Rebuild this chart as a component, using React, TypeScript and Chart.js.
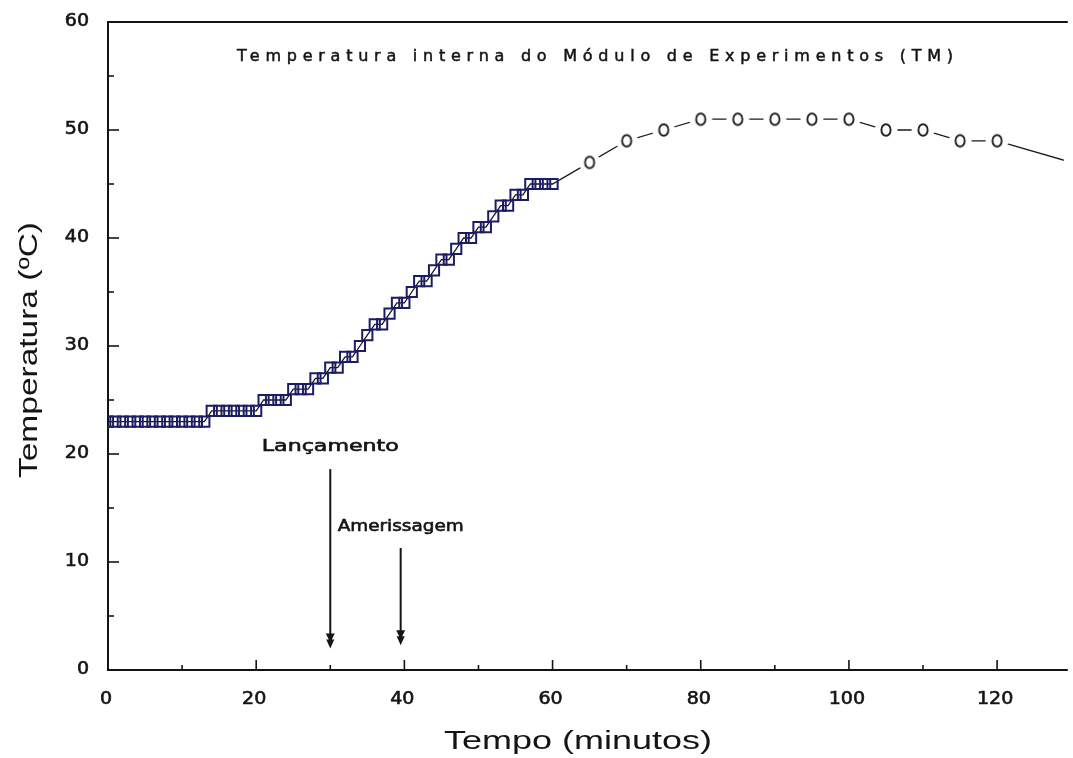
import React, { useEffect, useRef } from "react";
import { Chart, registerables } from "chart.js";

Chart.register(...registerables);

// ---- Data ----
const squareTimes = [
  0, 1, 2, 3, 4, 5, 6, 7, 8, 9, 10, 11, 12, 13, 14, 15, 16, 17, 18, 19, 20,
  21, 22, 23, 24, 25, 26, 27, 28, 29, 30, 31, 32, 33, 34, 35, 36, 37, 38, 39, 40,
  41, 42, 43, 44, 45, 46, 47, 48, 49, 50, 51, 52, 53, 54, 55, 56, 57, 58, 59, 60,
];
const squareTemps = [
  23, 23, 23, 23, 23, 23, 23, 23, 23, 23, 23, 23, 23, 23, 24, 24, 24, 24, 24, 24, 24,
  25, 25, 25, 25, 26, 26, 26, 27, 27, 28, 28, 29, 29, 30, 31, 32, 32, 33, 34, 34,
  35, 36, 36, 37, 38, 38, 39, 40, 40, 41, 41, 42, 43, 43, 44, 44, 45, 45, 45, 45,
];
const circleTimes = [65, 70, 75, 80, 85, 90, 95, 100, 105, 110, 115, 120, 130];
const circleTemps = [47, 49, 50, 51, 51, 51, 51, 51, 50, 50, 49, 49, 47];

const xMajorTicks = [0, 20, 40, 60, 80, 100, 120];
const xMinorTicks = [10, 30, 50, 70, 90, 110];
const yMajorTicks = [0, 10, 20, 30, 40, 50, 60];
const yMinorTicks = [5, 15, 25, 35, 45, 55];

const eventLabels = ["Lançamento", "Amerissagem"];
const eventTimes = [30, 39.5];
const eventLabelTemps = [20.7, 13.3];
const eventArrowTops = [18.6, 11.3];
const eventArrowTips = [2.0, 2.3];

const chartTitle = "Temperatura interna do Módulo de Experimentos (TM)";
const xAxisTitle = "Tempo (minutos)";
const yAxisTitle = "Temperatura (ºC)";

const INK = "#141414";

function drawStretched(
  ctx: CanvasRenderingContext2D,
  text: string,
  cx: number,
  cy: number,
  font: string,
  targetW: number,
  rot = 0,
  stroke = 0
) {
  ctx.save();
  ctx.font = font;
  const w = ctx.measureText(text).width;
  ctx.translate(cx, cy);
  if (rot) ctx.rotate(rot);
  ctx.scale(targetW / w, 1);
  ctx.textAlign = "center";
  ctx.textBaseline = "middle";
  ctx.fillStyle = INK;
  ctx.fillText(text, 0, 0);
  if (stroke > 0) {
    ctx.strokeStyle = INK;
    ctx.lineWidth = stroke;
    ctx.strokeText(text, 0, 0);
  }
  ctx.restore();
}

function drawSpaced(
  ctx: CanvasRenderingContext2D,
  text: string,
  cx: number,
  cy: number,
  font: string,
  targetW: number
) {
  ctx.save();
  ctx.font = font;
  const w = ctx.measureText(text).width;
  const ls = (targetW - w) / (text.length - 1);
  (ctx as any).letterSpacing = ls + "px";
  ctx.textAlign = "left";
  ctx.textBaseline = "middle";
  ctx.fillStyle = INK;
  ctx.fillText(text, cx - targetW / 2, cy);
  ctx.strokeStyle = INK;
  ctx.lineWidth = 0.5;
  ctx.strokeText(text, cx - targetW / 2, cy);
  ctx.restore();
}

function drawTickLabel(
  ctx: CanvasRenderingContext2D,
  text: string,
  px: number,
  py: number,
  align: CanvasTextAlign
) {
  ctx.save();
  ctx.font = '17px "DejaVu Sans"';
  ctx.translate(px, py);
  ctx.scale(1.12, 1);
  ctx.textAlign = align;
  ctx.textBaseline = "middle";
  ctx.fillStyle = INK;
  ctx.fillText(text, 0, 0);
  ctx.strokeStyle = INK;
  ctx.lineWidth = 0.6;
  ctx.strokeText(text, 0, 0);
  ctx.restore();
}

function makeCircleMarker(): HTMLCanvasElement {
  const c = document.createElement("canvas");
  c.width = 26;
  c.height = 24;
  const g = c.getContext("2d")!;
  g.fillStyle = "#ffffff";
  g.beginPath();
  g.ellipse(13, 12, 11.5, 9, 0, 0, Math.PI * 2);
  g.fill();
  g.strokeStyle = "#222222";
  g.lineWidth = 1.9;
  g.beginPath();
  g.ellipse(13, 12, 4.6, 5.8, 0, 0, Math.PI * 2);
  g.stroke();
  return c;
}

const overlayPlugin = {
  id: "overlay",
  beforeDatasetsDraw(chart: any) {
    const { ctx, chartArea: a, scales } = chart;
    const x = scales.x;
    const y = scales.y;
    ctx.save();
    ctx.strokeStyle = INK;
    ctx.lineWidth = 2;
    ctx.beginPath();
    ctx.moveTo(a.right + 4, a.top);
    ctx.lineTo(a.left, a.top);
    ctx.lineTo(a.left, a.bottom);
    ctx.lineTo(a.right + 4, a.bottom);
    ctx.stroke();

    ctx.lineWidth = 1.6;
    const seg = (x1: number, y1: number, x2: number, y2: number) => {
      ctx.beginPath();
      ctx.moveTo(x1, y1);
      ctx.lineTo(x2, y2);
      ctx.stroke();
    };
    xMajorTicks.forEach((v) => {
      const px = x.getPixelForValue(v);
      seg(px, a.bottom, px, a.bottom - 10);
    });
    xMinorTicks.forEach((v) => {
      const px = x.getPixelForValue(v);
      seg(px, a.bottom, px, a.bottom - 5);
    });
    yMajorTicks.forEach((v) => {
      const py = y.getPixelForValue(v);
      seg(a.left, py, a.left + 11, py);
    });
    yMinorTicks.forEach((v) => {
      const py = y.getPixelForValue(v);
      seg(a.left, py, a.left + 6, py);
    });
    ctx.restore();
  },
  afterDraw(chart: any) {
    const { ctx, chartArea: a, scales } = chart;
    const x = scales.x;
    const y = scales.y;

    // tick labels
    xMajorTicks.forEach((v) => {
      drawTickLabel(ctx, String(v), x.getPixelForValue(v) - 2, a.bottom + 30, "center");
    });
    yMajorTicks.forEach((v) => {
      drawTickLabel(ctx, String(v), a.left - 19, y.getPixelForValue(v), "right");
    });

    // chart title
    drawSpaced(ctx, chartTitle, a.left + 487, a.top + 35, '16px "DejaVu Sans"', 716);

    // axis titles
    drawStretched(ctx, xAxisTitle, a.left + 470, a.bottom + 72, '25px "Liberation Sans"', 268);
    drawStretched(ctx, yAxisTitle, 30, (a.top + a.bottom) / 2 + 4, '25px "Liberation Sans"', 256, -Math.PI / 2);

    // event annotations
    ctx.save();
    ctx.strokeStyle = INK;
    ctx.fillStyle = INK;
    eventTimes.forEach((t, i) => {
      const px = x.getPixelForValue(t);
      const top = y.getPixelForValue(eventArrowTops[i]);
      const tip = y.getPixelForValue(eventArrowTips[i]);
      ctx.lineWidth = 2;
      ctx.beginPath();
      ctx.moveTo(px, top);
      ctx.lineTo(px, tip - 8);
      ctx.stroke();
      ctx.beginPath();
      ctx.moveTo(px - 4.5, tip - 15);
      ctx.lineTo(px + 4.5, tip - 15);
      ctx.lineTo(px + 1.5, tip - 9);
      ctx.lineTo(px + 4, tip - 9);
      ctx.lineTo(px, tip);
      ctx.lineTo(px - 4, tip - 9);
      ctx.lineTo(px - 1.5, tip - 9);
      ctx.closePath();
      ctx.fill();
      const ly = y.getPixelForValue(eventLabelTemps[i]);
      const tw = i === 0 ? 137 : 126;
      drawStretched(ctx, eventLabels[i], px, ly, '16px "DejaVu Sans"', tw, 0, 0.6);
    });
    ctx.restore();
  },
};

export default function App() {
  const ref = useRef<HTMLCanvasElement>(null);

  useEffect(() => {
    const squarePts = squareTimes.map((t, i) => ({ x: t, y: squareTemps[i] }));
    const circlePts = circleTimes.map((t, i) => ({ x: t, y: circleTemps[i] }));
    const marker = makeCircleMarker();

    const chart = new Chart(ref.current!, {
      type: "line",
      data: {
        datasets: [
          {
            label: "TM (1 min)",
            data: squarePts,
            showLine: false,
            pointStyle: "rect",
            pointRadius: 7.2,
            pointBorderColor: "#1c1c66",
            pointBorderWidth: 2,
            pointBackgroundColor: "rgba(0,0,0,0)",
            order: 1,
          },
          {
            label: "TM (5 min)",
            data: circlePts,
            showLine: false,
            pointStyle: marker as any,
            pointRadius: 5,
            order: 1,
          },
          {
            label: "TM",
            data: [...squarePts, ...circlePts],
            borderColor: "#1a1a1a",
            borderWidth: 1.3,
            pointRadius: 0,
            tension: 0,
            order: 3,
          },
        ],
      },
      options: {
        animation: false,
        responsive: false,
        events: [],
        layout: { padding: { left: 108, top: 22, right: 0, bottom: 88 } },
        plugins: {
          legend: { display: false },
          tooltip: { enabled: false },
          title: { display: false },
        },
        scales: {
          x: { type: "linear", min: 0, max: 129, display: false },
          y: { type: "linear", min: 0, max: 60, display: false },
        },
      },
      plugins: [overlayPlugin],
    });

    return () => chart.destroy();
  }, []);

  return (
    <div
      style={{
        position: "fixed",
        left: 0,
        top: 0,
        width: 1073,
        height: 758,
        background: "#ffffff",
      }}
    >
      <canvas ref={ref} width={1073} height={758} style={{ display: "block" }} />
    </div>
  );
}
